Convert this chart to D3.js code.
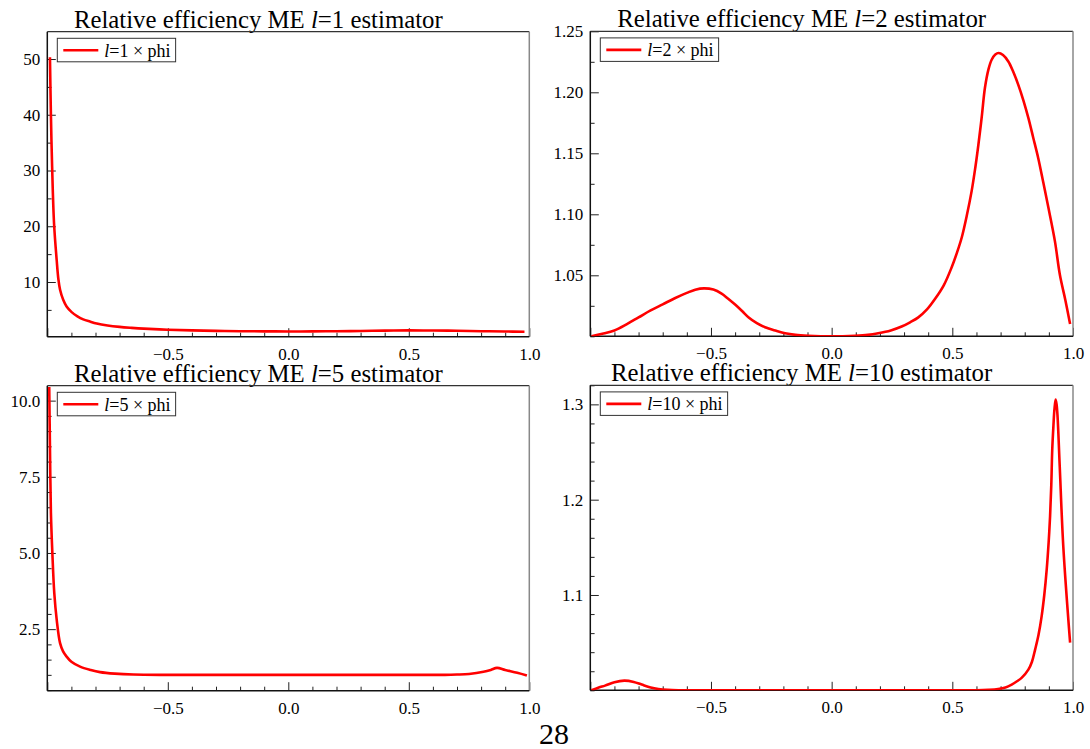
<!DOCTYPE html>
<html>
<head>
<meta charset="utf-8">
<title>Relative efficiency ME estimators</title>
<script src="https://d3js.org/d3.v7.min.js"></script>
<style>
  body { margin: 0; background: #fff; }
  svg text, svg tspan { font-family: "Liberation Serif", "DejaVu Serif", serif; fill: #000; }
</style>
</head>
<body>
<svg id="chart" width="1090" height="749"></svg>
<script>
// ---- data ----
const phiL1 = [-0.989, -0.985, -0.980, -0.972, -0.961, -0.954, -0.947, -0.934, -0.92, -0.899, -0.875, -0.851, -0.823, -0.795, -0.75, -0.7, -0.65, -0.6, -0.5, -0.4, -0.3, -0.2, -0.1, 0, 0.1, 0.2, 0.3, 0.4, 0.5, 0.6, 0.7, 0.8, 0.9, 0.98];
const effL1 = [50.3, 40, 30.7, 20.5, 13.9, 10.5, 8.6, 6.8, 5.6, 4.6, 3.85, 3.3, 2.9, 2.55, 2.2, 1.95, 1.78, 1.64, 1.45, 1.32, 1.24, 1.18, 1.15, 1.13, 1.14, 1.17, 1.22, 1.28, 1.32, 1.3, 1.25, 1.18, 1.12, 1.08];

const phiL2 = [-0.995, -0.95, -0.9, -0.85, -0.8, -0.75, -0.7, -0.65, -0.6, -0.565, -0.529, -0.49, -0.456, -0.43, -0.40, -0.37, -0.345, -0.31, -0.276, -0.23, -0.193, -0.15, -0.097, 0.0, 0.097, 0.15, 0.193, 0.245, 0.29, 0.325, 0.359, 0.395, 0.428, 0.465, 0.497, 0.52, 0.539, 0.56, 0.58, 0.595, 0.608, 0.622, 0.635, 0.65, 0.663, 0.678, 0.692, 0.71, 0.732, 0.752, 0.773, 0.795, 0.815, 0.835, 0.856, 0.877, 0.898, 0.925, 0.946, 0.968, 0.988];
const effL2 = [1.0, 1.002, 1.0048, 1.0098, 1.0155, 1.0212, 1.0262, 1.0312, 1.0356, 1.0382, 1.0393, 1.0383, 1.035, 1.031, 1.026, 1.0205, 1.0157, 1.0108, 1.0074, 1.0045, 1.0025, 1.0012, 1.0005, 1.0, 1.0005, 1.0012, 1.0025, 1.0048, 1.008, 1.0115, 1.0155, 1.022, 1.0305, 1.042, 1.0564, 1.069, 1.081, 1.099, 1.119, 1.138, 1.157, 1.18, 1.2035, 1.219, 1.2267, 1.231, 1.2322, 1.2305, 1.2253, 1.217, 1.2063, 1.193, 1.179, 1.163, 1.146, 1.126, 1.1055, 1.078, 1.05, 1.03, 1.01];

const phiL5 = [-0.992, -0.989, -0.985, -0.979, -0.971, -0.961, -0.947, -0.935, -0.92, -0.9, -0.864, -0.82, -0.781, -0.72, -0.643, -0.5, -0.3, 0, 0.3, 0.5, 0.65, 0.7, 0.75, 0.81, 0.84, 0.866, 0.9, 0.95, 0.99];
const effL5 = [10.45, 8.5, 6.32, 5.0, 3.68, 2.81, 2.04, 1.78, 1.6, 1.43, 1.27, 1.16, 1.09, 1.04, 1.01, 1.0, 1.0, 1.0, 1.0, 1.0, 1.0, 1.01, 1.03, 1.1, 1.16, 1.23, 1.16, 1.07, 0.98];

const phiL10 = [-0.995, -0.965, -0.939, -0.9, -0.859, -0.82, -0.787, -0.75, -0.718, -0.68, -0.635, -0.5, 0, 0.5, 0.6, 0.65, 0.69, 0.72, 0.746, 0.768, 0.787, 0.815, 0.83, 0.843, 0.857, 0.87, 0.881, 0.891, 0.899, 0.905, 0.91, 0.914, 0.919, 0.923, 0.928, 0.932, 0.936, 0.945, 0.96, 0.988];
const effL10 = [1.0, 1.003, 1.0049, 1.0085, 1.0101, 1.0088, 1.006, 1.003, 1.0014, 1.0004, 1.0, 1.0, 1.0, 1.0, 1.0, 1.0005, 1.0014, 1.003, 1.006, 1.0095, 1.013, 1.0217, 1.03, 1.0427, 1.058, 1.0776, 1.1, 1.1266, 1.155, 1.1825, 1.215, 1.2524, 1.278, 1.2944, 1.305, 1.3, 1.2874, 1.235, 1.15, 1.05];

const xMajor = [-1, -0.5, 0, 0.5, 1];
const xLabels = [-0.5, 0, 0.5, 1];

const panels = [
  { l: "1",  phi: phiL1,  eff: effL1,  frame: [47.3, 529.3, 31.7, 336.7],  yDomain: [0.19, 54.9],
    yMajor: [10, 20, 30, 40, 50], yMinorStep: 5, yFmt: d3.format("d") },
  { l: "2",  phi: phiL2,  eff: effL2,  frame: [590.3, 1073, 31.3, 336.3],  yDomain: [1.0, 1.25],
    yMajor: [1.05, 1.10, 1.15, 1.20, 1.25], yMinorStep: 0.025, yFmt: d3.format(".2f") },
  { l: "5",  phi: phiL5,  eff: effL5,  frame: [47.3, 529.3, 385.7, 690.7], yDomain: [0.48, 10.49],
    yMajor: [2.5, 5.0, 7.5, 10.0], yMinorStep: 0.5, yFmt: d3.format(".1f") },
  { l: "10", phi: phiL10, eff: effL10, frame: [590.3, 1073, 385.3, 690.3], yDomain: [1.0, 1.32],
    yMajor: [1.1, 1.2, 1.3], yMinorStep: 0.02, yFmt: d3.format(".1f") }
];

const serif = "'Liberation Serif', 'DejaVu Serif', serif";
const svg = d3.select("#chart");

function steps(domain, step) {
  const out = [];
  const start = Math.ceil(domain[0] / step - 1e-6);
  for (let k = start; k * step <= domain[1] + 1e-9; k++) out.push(+(k * step).toFixed(4));
  return out;
}

panels.forEach((p, i) => {
  const [x0, x1, y0, y1] = p.frame;
  const x = d3.scaleLinear().domain([-1, 1]).range([x0, x1]);
  const y = d3.scaleLinear().domain(p.yDomain).range([y1, y0]);
  const g = svg.append("g").attr("font-family", serif);

  // title
  g.append("text")
    .attr("x", (x0 + x1) / 2 - 30)
    .attr("y", y0 - 4)
    .attr("text-anchor", "middle")
    .attr("font-family", serif)
    .attr("font-size", 24.8)
    .call(t => {
      t.append("tspan").text("Relative efficiency ME ");
      t.append("tspan").attr("font-style", "italic").text("l");
      t.append("tspan").text("=" + p.l + " estimator");
    });

  // minor x ticks
  const xMinor = steps([-1, 1], 0.1).filter(v => !xMajor.some(m => Math.abs(m - v) < 1e-6));
  g.append("g")
    .attr("transform", `translate(0,${y1})`)
    .call(d3.axisBottom(x).tickValues(xMinor).tickSizeInner(-4).tickSizeOuter(0).tickFormat(""))
    .call(a => a.select(".domain").remove());
  // major x ticks + labels
  g.append("g")
    .attr("transform", `translate(0,${y1})`)
    .call(d3.axisBottom(x).tickValues(xMajor).tickSizeInner(-8.5).tickSizeOuter(0).tickPadding(11)
      .tickFormat(v => xLabels.includes(v) ? d3.format(".1f")(v) : ""))
    .attr("font-family", serif).attr("font-size", 17)
    .call(a => a.select(".domain").remove());

  // minor y ticks
  const yMinor = steps(p.yDomain, p.yMinorStep).filter(v => !p.yMajor.some(m => Math.abs(m - v) < 1e-6));
  g.append("g")
    .attr("transform", `translate(${x0},0)`)
    .call(d3.axisLeft(y).tickValues(yMinor).tickSizeInner(-4.3).tickSizeOuter(0).tickFormat(""))
    .call(a => a.select(".domain").remove());
  // major y ticks + labels
  g.append("g")
    .attr("transform", `translate(${x0},0)`)
    .call(d3.axisLeft(y).tickValues(p.yMajor).tickSizeInner(-8.5).tickSizeOuter(0).tickPadding(7).tickFormat(p.yFmt))
    .attr("font-family", serif).attr("font-size", 17)
    .call(a => a.select(".domain").remove());

  g.selectAll(".tick line").attr("stroke", "#222").attr("stroke-width", 1);

  // frame
  g.append("line").attr("x1", x0).attr("x2", x1).attr("y1", y0).attr("y2", y0).attr("stroke", "#333").attr("stroke-width", 1.3);
  g.append("line").attr("x1", x1).attr("x2", x1).attr("y1", y0).attr("y2", y1).attr("stroke", "#888").attr("stroke-width", 1.5);
  g.append("line").attr("x1", x0).attr("x2", x1).attr("y1", y1).attr("y2", y1).attr("stroke", "#111").attr("stroke-width", 1.5);
  g.append("line").attr("x1", x0).attr("x2", x0).attr("y1", y0).attr("y2", y1).attr("stroke", "#111").attr("stroke-width", 1.5);

  // curve
  const clipId = "clip" + i;
  svg.append("clipPath").attr("id", clipId)
    .append("rect").attr("x", x0).attr("y", y0).attr("width", x1 - x0).attr("height", y1 - y0);
  const pts = p.phi.map((v, k) => [v, p.eff[k]]);
  g.append("path")
    .datum(pts)
    .attr("clip-path", `url(#${clipId})`)
    .attr("fill", "none")
    .attr("stroke", "#ff0000")
    .attr("stroke-width", 2.6)
    .attr("stroke-linejoin", "round")
    .attr("d", d3.line().x(d => x(d[0])).y(d => y(d[1])).curve(d3.curveCatmullRom.alpha(0.5)));

  // legend
  const lg = g.append("g").attr("transform", `translate(${x0 + 10},${y0 + 6.6})`);
  const box = lg.append("rect").attr("fill", "#fff").attr("stroke", "#333").attr("stroke-width", 1);
  lg.append("line").attr("x1", 6).attr("x2", 41).attr("y1", 12).attr("y2", 12)
    .attr("stroke", "#ff0000").attr("stroke-width", 2.6);
  const lt = lg.append("text").attr("x", 47).attr("y", 18.4).attr("font-size", 18).attr("font-family", serif);
  lt.append("tspan").attr("font-style", "italic").text("l");
  lt.append("tspan").text("=" + p.l + " \u00d7 phi");
  const w = lt.node().getComputedTextLength();
  box.attr("x", 0).attr("y", 0).attr("width", 47 + w + 5).attr("height", 23.5);
});

// page number
svg.append("text")
  .attr("x", 554).attr("y", 744)
  .attr("text-anchor", "middle")
  .attr("font-family", serif)
  .attr("font-size", 30)
  .text("28");
</script>
</body>
</html>
